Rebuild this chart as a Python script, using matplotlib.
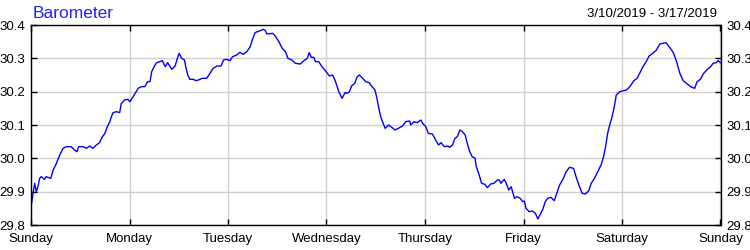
import matplotlib
matplotlib.use("Agg")
import matplotlib.pyplot as plt

plt.rcParams['font.family'] = ['Liberation Sans', 'DejaVu Sans']

title = "Barometer"
date_range = "3/10/2019 - 3/17/2019"
day_labels = ["Sunday", "Monday", "Tuesday", "Wednesday", "Thursday", "Friday", "Saturday", "Sunday"]
day_hours = [0, 24, 48, 72, 96, 120, 144, 168]
y_ticks = [29.8, 29.9, 30.0, 30.1, 30.2, 30.3, 30.4]

hours = [
    0.0, 0.2, 0.5, 0.9, 1.3, 1.7, 2.1, 2.5, 3.3, 3.7, 4.8, 5.4, 6.2, 7.0, 7.8, 8.6, 9.8, 10.6, 11.2, 11.6,
    12.7, 13.5, 14.3, 15.1, 15.9, 16.7, 17.3, 18.0, 18.6, 19.2, 19.6, 20.0, 20.8, 21.6, 22.0, 22.8, 23.6,
    24.1, 24.9, 26.1, 26.9, 27.7,
    28.4, 29.0, 29.4, 30.0, 30.6, 31.4, 32.0, 32.7, 33.3, 34.3, 35.1, 35.8, 36.1, 36.7, 37.4, 37.7, 38.2,
    38.7, 39.6, 40.1, 40.8, 41.7, 42.8, 43.6, 44.4, 45.3, 46.3, 46.9, 47.7, 48.5, 49.1, 50.1, 50.9, 51.7,
    52.6, 53.4, 53.9, 54.6, 55.8, 56.6,
    57.0, 57.5, 58.9, 59.5, 60.4, 61.2, 62.0, 62.6, 63.6, 64.4, 65.6, 66.5, 67.3, 67.8, 68.3, 68.9, 69.3,
    70.1, 70.9, 71.9, 72.7, 73.5, 74.2, 75.0, 75.8, 76.5, 77.0, 77.6, 78.1, 78.9, 79.4, 80.0, 80.8, 81.6,
    82.4, 83.1, 83.8, 84.3, 84.7,
    85.2, 85.8, 86.3, 87.1, 87.9, 88.7, 89.5, 90.5, 91.3, 92.3, 92.5, 93.3, 94.1, 95.0, 95.4, 96.2, 96.8,
    97.8, 98.6, 99.3, 99.9, 100.7, 101.5, 102.0, 102.7, 103.3, 103.9, 104.5, 105.1, 105.8, 106.3, 106.9,
    107.5, 108.2, 108.5, 109.2, 109.8, 110.6, 111.2, 112.0, 112.8, 113.6,
    114.1, 114.5, 115.3, 115.8, 116.4, 117.0, 117.8, 118.4, 119.2, 119.8, 120.2, 120.6, 121.4, 122.1,
    122.9, 123.5, 124.0, 124.7, 125.3, 125.9, 126.7, 127.5, 128.1, 128.8, 129.6, 130.4, 131.2, 132.2,
    132.8, 133.5, 134.3, 135.1, 135.9, 136.5, 137.3, 138.1, 138.9, 139.5, 140.0, 140.5, 141.1, 141.6, 142.2,
    142.6, 143.5, 144.3, 145.1, 145.9, 146.9, 147.7, 148.3, 149.1, 149.9, 150.6, 151.5, 152.4, 153.2,
    154.0, 154.7, 155.5, 156.5, 157.3, 158.1, 158.9, 159.7, 160.7, 161.7, 162.3, 163.1, 163.9, 164.8,
    165.6, 166.2, 167.0, 167.4, 168.0,
]

pressure = [
    29.855, 29.87, 29.895, 29.925, 29.90, 29.915, 29.94, 29.945, 29.937, 29.945, 29.94, 29.965, 29.985,
    30.01, 30.03, 30.035, 30.035, 30.025, 30.02, 30.035, 30.035, 30.03, 30.037, 30.03, 30.04, 30.047,
    30.063, 30.075, 30.095, 30.11, 30.125, 30.137, 30.14, 30.137, 30.165, 30.175, 30.177, 30.17, 30.185,
    30.21, 30.215, 30.215,
    30.23, 30.23, 30.26, 30.275, 30.287, 30.29, 30.293, 30.275, 30.287, 30.267, 30.277, 30.305, 30.315,
    30.30, 30.295, 30.275, 30.25, 30.237, 30.237, 30.233, 30.235, 30.24, 30.24, 30.255, 30.27, 30.277,
    30.277, 30.295, 30.297, 30.293, 30.305, 30.31, 30.318, 30.312, 30.32, 30.335, 30.355, 30.377, 30.383,
    30.387,
    30.385, 30.373, 30.375, 30.367, 30.35, 30.33, 30.32, 30.30, 30.295, 30.285, 30.283, 30.293, 30.30,
    30.317, 30.303, 30.303, 30.29, 30.29, 30.275, 30.26, 30.247, 30.25, 30.23, 30.20, 30.18, 30.197,
    30.195, 30.20, 30.217, 30.225, 30.243, 30.25, 30.24, 30.23, 30.227, 30.215, 30.205, 30.18, 30.153,
    30.125, 30.105, 30.09, 30.10, 30.093, 30.085, 30.09, 30.097, 30.11, 30.112, 30.10, 30.11, 30.107,
    30.115, 30.105, 30.095, 30.075, 30.073, 30.055, 30.04, 30.047, 30.035, 30.037, 30.033, 30.04, 30.06,
    30.065, 30.085, 30.08, 30.07, 30.045, 30.02, 30.005, 30.0, 29.975, 29.95, 29.925, 29.922, 29.912,
    29.923, 29.925, 29.935,
    29.935, 29.925, 29.937, 29.925, 29.905, 29.915, 29.88, 29.885, 29.88, 29.87, 29.872, 29.85, 29.84,
    29.842, 29.835, 29.818, 29.83, 29.847, 29.87, 29.88, 29.883, 29.873, 29.895, 29.92, 29.937, 29.96,
    29.973, 29.97, 29.945, 29.92, 29.895, 29.893, 29.903, 29.925, 29.94, 29.96, 29.98, 30.005, 30.035,
    30.075, 30.105, 30.125, 30.16,
    30.19, 30.20, 30.203, 30.205, 30.215, 30.233, 30.24, 30.255, 30.275, 30.29, 30.307, 30.315, 30.325,
    30.343, 30.345, 30.347, 30.335, 30.317, 30.29, 30.255, 30.233, 30.225, 30.215, 30.21, 30.23, 30.237,
    30.255, 30.267, 30.275, 30.285, 30.287, 30.293, 30.287,
]

fig = plt.figure(figsize=(7.5, 2.5), dpi=100)
ax = fig.add_axes([31 / 750, 25 / 250, 689.5 / 750, 200 / 250])

ax.plot(hours, pressure, color="#0000ff", linewidth=1.0)

ax.set_xlim(day_hours[0], day_hours[-1])
ax.set_ylim(y_ticks[0], y_ticks[-1])
ax.set_xticks(day_hours)
ax.set_xticklabels(day_labels)
ax.set_yticks(y_ticks)
ax.set_yticklabels([f"{v:.1f}" for v in y_ticks])

ax.grid(True, color="#d0d0d0", linewidth=1.0)
ax.set_axisbelow(True)
for s in ax.spines.values():
    s.set_color("black")
    s.set_linewidth(1.0)

ax.tick_params(axis="both", direction="in", length=4, width=1, color="black",
               labelsize=9.5, labelcolor="black")
ax.tick_params(axis="x", top=True, bottom=True, pad=6)
ax.tick_params(axis="y", left=True, right=True, labelleft=True, labelright=True, pad=4)

fig.text(33 / 750, 1 - 18 / 250, title, color="#2020ff", fontsize=12.5, ha="left", va="baseline")
fig.text(717 / 750, 1 - 17 / 250, date_range, color="black", fontsize=9.5, ha="right", va="baseline")

fig.savefig("out.png", dpi=100)
